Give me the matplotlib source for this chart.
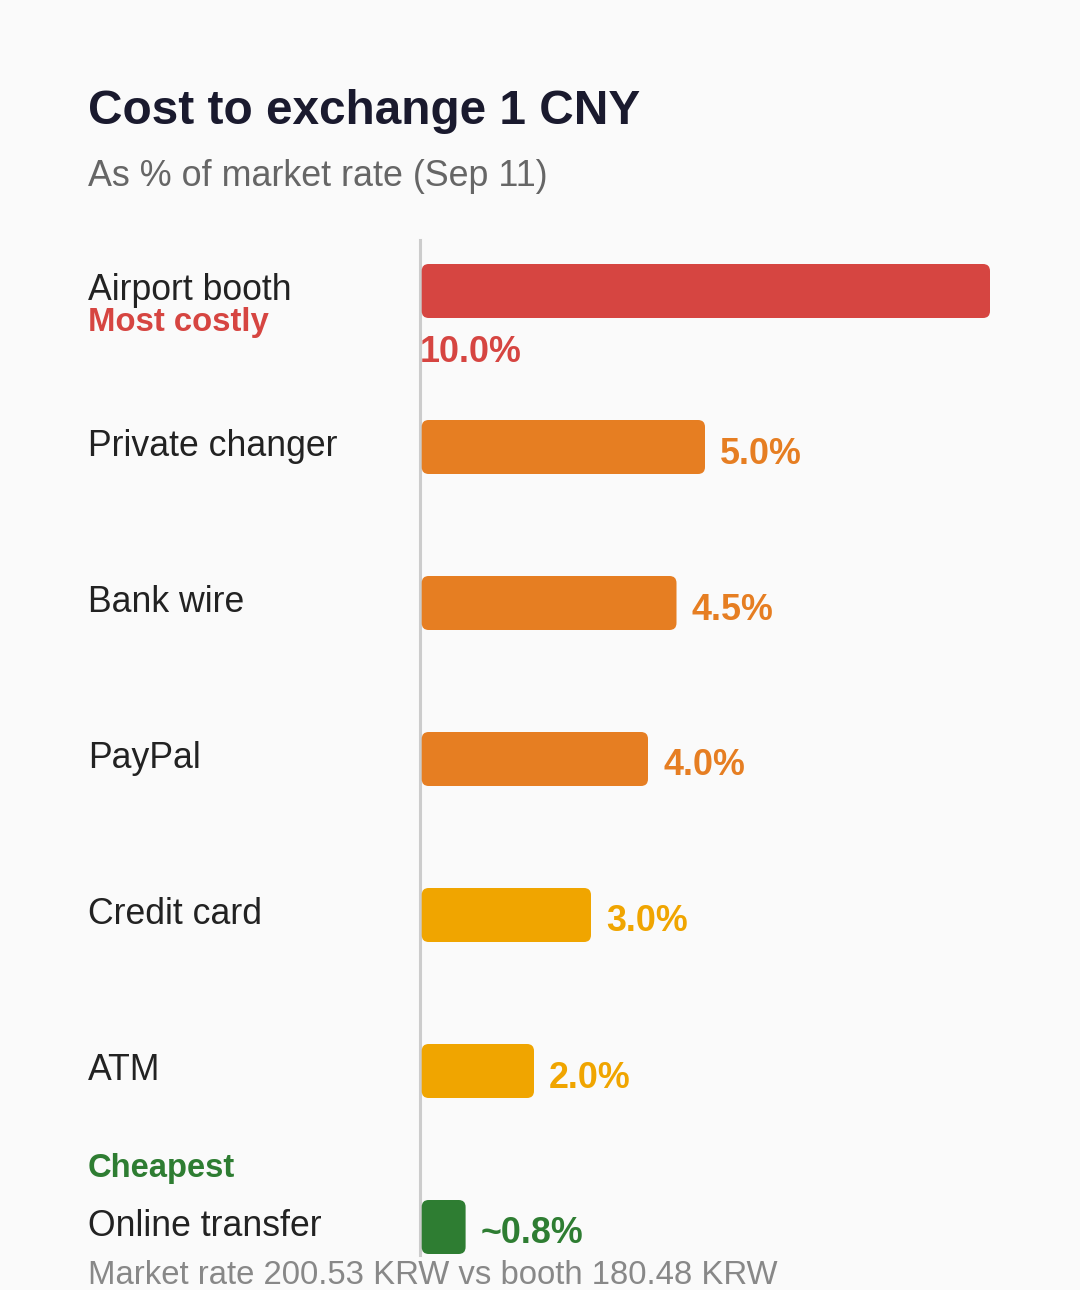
import matplotlib
matplotlib.use("Agg")
import matplotlib.pyplot as plt
from matplotlib.patches import FancyBboxPatch
from matplotlib.transforms import blended_transform_factory

plt.rcParams['font.family'] = ['Liberation Sans', 'DejaVu Sans']

categories = ["Airport booth", "Private changer", "Bank wire", "PayPal",
              "Credit card", "ATM", "Online transfer"]
values = [10.0, 5.0, 4.5, 4.0, 3.0, 2.0, 0.8]
value_labels = ["10.0%", "5.0%", "4.5%", "4.0%", "3.0%", "2.0%", "~0.8%"]
colors = ["#D64541", "#E67E22", "#E67E22", "#E67E22", "#F0A500", "#F0A500", "#2E7D32"]

title = "Cost to exchange 1 CNY"
subtitle = "As % of market rate (Sep 11)"
footer = "Market rate 200.53 KRW vs booth 180.48 KRW"
tag_top = "Most costly"
tag_bottom = "Cheapest"

W, H = 1080, 1290
bg = "#FAFAFA"
fig = plt.figure(figsize=(W / 100, H / 100), dpi=100, facecolor=bg)

def fx(px):
    return px / W

def fy(py):
    return 1 - py / H

ax_left, ax_right, ax_top, ax_bottom = 420, 1040, 240, 1255
ax = fig.add_axes([fx(ax_left), fy(ax_bottom), fx(ax_right - ax_left), (ax_bottom - ax_top) / H])
ax.set_facecolor(bg)

px_per_unit_x = 57.0
px_per_unit_y = 156.0
first_center = 291
ax.set_xlim(0, (ax_right - ax_left) / px_per_unit_x)
ax.set_ylim((ax_bottom - first_center) / px_per_unit_y, (ax_top - first_center) / px_per_unit_y)

for s in ["top", "right", "bottom"]:
    ax.spines[s].set_visible(False)
ax.spines["left"].set_color("#CCCCCC")
ax.spines["left"].set_linewidth(2.2)
ax.set_xticks([])
ax.set_yticks([])

bar_h = 54 / px_per_unit_y
r_px = 7
rx = r_px / px_per_unit_x
aspect = (r_px / px_per_unit_y) / rx
for i, (v, c) in enumerate(zip(values, colors)):
    p = FancyBboxPatch((0.03, i - bar_h / 2), v - 0.03, bar_h,
                       boxstyle=f"round,pad=0,rounding_size={rx}",
                       mutation_aspect=aspect, facecolor=c, edgecolor="none", zorder=3)
    ax.add_patch(p)

val_fs = 25.8
for i, (v, lab, c) in enumerate(zip(values, value_labels, colors)):
    if i == 0:
        ax.text(0, i + 61 / px_per_unit_y, lab, ha="left", va="center",
                fontsize=val_fs, fontweight="bold", color=c)
    else:
        ax.text(v + 15 / px_per_unit_x, i + 7 / px_per_unit_y, lab, ha="left", va="center",
                fontsize=val_fs, fontweight="bold", color=c)

trans = blended_transform_factory(fig.transFigure, ax.transData)
for i, cat in enumerate(categories):
    ax.text(fx(88), i + 0 / px_per_unit_y, cat, transform=trans, ha="left", va="center",
            fontsize=25.7, color="#222222")

ax.text(fx(88), 0 + 32 / px_per_unit_y, tag_top, transform=trans, ha="left", va="center",
        fontsize=23.7, fontweight="bold", color="#D64541")
ax.text(fx(88), 6 - 59 / px_per_unit_y, tag_bottom, transform=trans, ha="left", va="center",
        fontsize=23.6, fontweight="bold", color="#2E7D32")

fig.text(fx(88), fy(112), title, ha="left", va="center", fontsize=34.4, fontweight="bold",
         color="#1A1A2E")
fig.text(fx(88), fy(176), subtitle, ha="left", va="center", fontsize=25.8, color="#666666")
fig.text(fx(88), fy(1276), footer, ha="left", va="center", fontsize=23.7, color="#888888")

fig.savefig("out.png", dpi=100, facecolor=bg)
